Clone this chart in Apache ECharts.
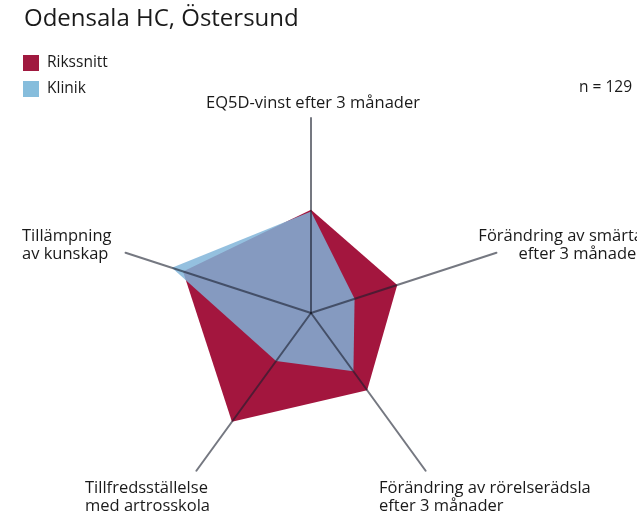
<!DOCTYPE html>
<html>
<head>
<meta charset="utf-8">
<script src="https://cdn.jsdelivr.net/npm/echarts@6/dist/echarts.min.js"></script>
<style>
  html, body { margin: 0; padding: 0; background: #fff; }
  #chart { width: 637px; height: 517px; }
</style>
</head>
<body>
<div id="chart"></div>
<script>
// axes, counter-clockwise from the top
const indicators = [
  'EQ5D-vinst efter 3 månader',
  'Tillämpning\nav kunskap',
  'Tillfredsställelse\nmed artrosskola',
  'Förändring av rörelserädsla\nefter 3 månader',
  'Förändring av smärta\nefter 3 månader'
]
const rikssnitt = [0.53, 0.69, 0.69, 0.49, 0.465]
const klinik = [0.52, 0.75, 0.305, 0.37, 0.235]
const antal = 129

const font = '"Open Sans", "Noto Sans", sans-serif'

// where each axis label sits (x, y, align)
const labelPos = [
  [313, 103, 'center'],
  [22, 245, 'left'],
  [85, 497, 'left'],
  [379, 497, 'left'],
  [643, 245, 'right']
]

const chart = echarts.init(document.getElementById('chart'))

chart.setOption({
  animation: false,
  title: {
    text: 'Odensala HC, Östersund',
    left: 19,
    top: 2,
    textStyle: { fontFamily: font, fontSize: 24, fontWeight: 'normal', color: '#1a1a1a' }
  },
  legend: {
    orient: 'vertical',
    left: 23,
    top: 55,
    padding: 0,
    itemWidth: 16,
    itemHeight: 16,
    itemGap: 10,
    icon: 'rect',
    data: ['Rikssnitt', 'Klinik'],
    textStyle: { fontFamily: font, fontSize: 15.5, color: '#1a1a1a', padding: [0, 0, 0, 3] }
  },
  radar: {
    center: [311, 313],
    radius: 195,
    startAngle: 90,
    z: 5,
    indicator: indicators.map(function (n) { return { name: n, max: 1, min: 0 } }),
    axisName: { show: false },
    splitLine: { show: false },
    splitArea: { show: false },
    axisLine: { lineStyle: { color: 'rgba(25,30,45,0.6)', width: 2 } }
  },
  graphic: indicators.map(function (n, i) {
    return {
      type: 'text',
      x: labelPos[i][0],
      y: labelPos[i][1],
      style: {
        text: n,
        fill: '#1a1a1a',
        font: '16.5px ' + font,
        align: labelPos[i][2],
        verticalAlign: 'middle',
        lineHeight: 18
      }
    }
  }).concat([{
    type: 'text',
    x: 579,
    y: 88,
    style: {
      text: 'n = ' + antal,
      fill: '#1a1a1a',
      font: '15.5px ' + font,
      verticalAlign: 'middle'
    }
  }]),
  series: [
    {
      name: 'Rikssnitt',
      type: 'radar',
      z: 2,
      symbol: 'none',
      itemStyle: { color: '#A0193F' },
      lineStyle: { width: 0 },
      areaStyle: { color: '#A3163E', opacity: 1 },
      data: [{ value: rikssnitt, name: 'Rikssnitt' }]
    },
    {
      name: 'Klinik',
      type: 'radar',
      z: 3,
      symbol: 'none',
      itemStyle: { color: '#86BDDC' },
      lineStyle: { width: 0 },
      areaStyle: { color: 'rgb(128,180,217)', opacity: 0.84 },
      data: [{ value: klinik, name: 'Klinik' }]
    }
  ]
})
</script>
</body>
</html>
